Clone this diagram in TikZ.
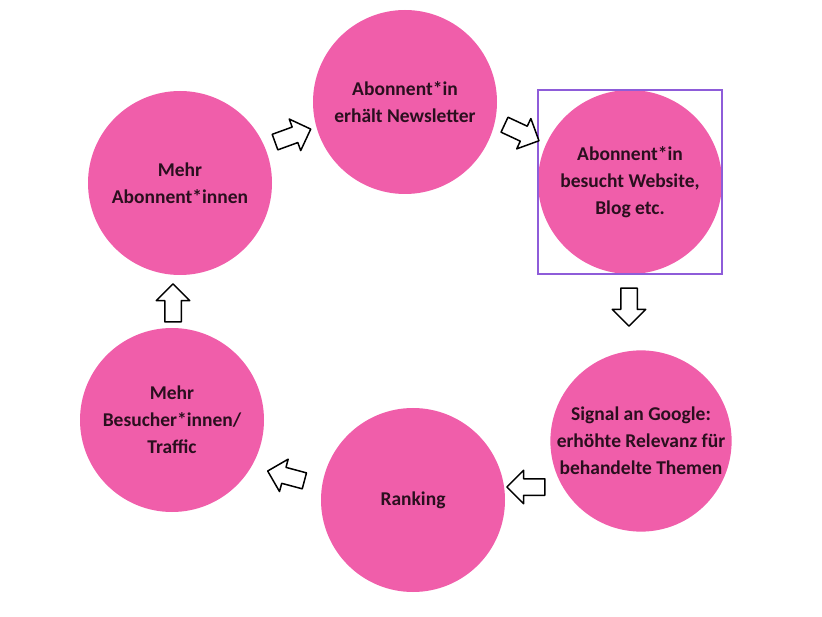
\documentclass[tikz,border=0pt]{standalone}
\usepackage{fontspec}
\setmainfont{Carlito}
\usepackage{tikz}
\usetikzlibrary{shapes.arrows,fit}
\definecolor{rose}{HTML}{F05EAA}
\definecolor{ink}{HTML}{2A0F1E}
\definecolor{violet}{HTML}{8E5CD9}

\begin{document}
\begin{tikzpicture}[x=1pt,y=-1pt,
  phase/.style={circle,fill=rose,minimum size=184pt,inner sep=0pt,align=center,text=ink,font=\fontsize{19.5}{27}\selectfont\bfseries},
  turn/.style={single arrow,draw=black,line width=1.5pt,line join=round,fill=white,minimum height=38pt,inner xsep=0pt,inner ysep=7.5pt,single arrow head extend=8.5pt},
  focus/.style={draw=violet,line width=1.7pt,inner sep=0pt}
]
\useasboundingbox (0,0) rectangle (822,617);
% the six stages of the cycle
\node[phase] (mail) at (405,102) {Abonnent*in\\erhält Newsletter};
\node[phase] (visit) at (630,182) {Abonnent*in\\besucht Website,\\Blog etc.};
\node[phase,minimum size=178pt] (signal) at (641,441) {Signal an Google:\\erhöhte Relevanz für\\behandelte Themen};
\node[phase] (rank) at (413,500) {Ranking};
\node[phase] (traffic) at (172,420) {Mehr\\Besucher*innen/\\Traffic};
\node[phase] (subs) at (180,183) {Mehr\\Abonnent*innen};
\node[focus,fit=(visit)] (frame) {};

% hand-drawn block arrows between the stages
\node[turn,rotate=20] (t1) at (289,137) {};
\node[turn,rotate=-25] (t2) at (518,131) {};
\node[turn,rotate=-90] (t3) at (629,303) {};
\node[turn,rotate=180] (t4) at (530,487) {};
\node[turn,rotate=165] (t5) at (290,477) {};
\node[turn,rotate=90] (t6) at (173,307) {};
\end{tikzpicture}
\end{document}
